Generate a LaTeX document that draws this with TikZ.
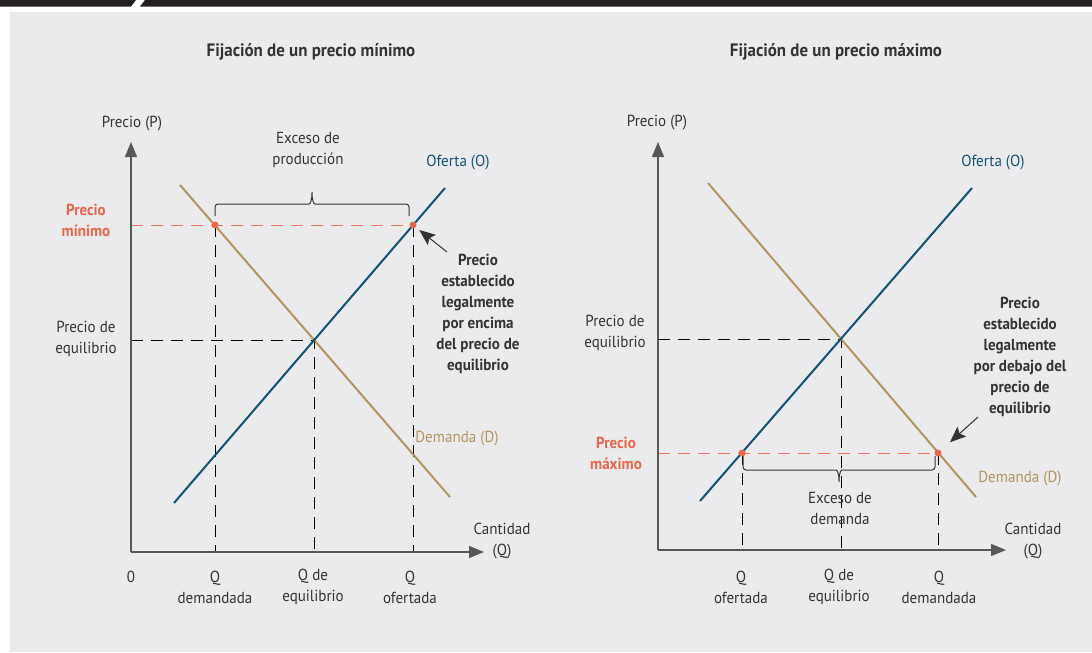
\documentclass[tikz,border=0pt]{standalone}
\usepackage{fontspec}
\setmainfont{PT Sans}[FakeStretch=0.94]
\usetikzlibrary{arrows.meta}
\definecolor{fondo}{RGB}{235,235,237}
\definecolor{barra}{RGB}{35,31,32}
\definecolor{oferta}{RGB}{18,82,114}
\definecolor{demanda}{RGB}{178,148,94}
\definecolor{tope}{RGB}{232,102,76}
\definecolor{texto}{RGB}{51,51,51}
\definecolor{eje}{RGB}{88,88,88}

\begin{document}
\begin{tikzpicture}[x=1pt,y=-1pt,
  lbl/.style={text=texto,font=\fontsize{16}{21}\selectfont,align=center,inner sep=0pt},
  nota/.style={lbl,font=\fontsize{16}{21}\selectfont\bfseries},
  titulo/.style={lbl,font=\fontsize{18}{20}\selectfont\bfseries},
  rojo/.style={lbl,text=tope,font=\fontsize{16}{21}\selectfont\bfseries},
  axis/.style={eje,line width=1.5pt,-{Triangle[length=15pt,width=12pt]}},
  guia/.style={black,line width=0.9pt,dash pattern=on 12pt off 8pt},
  guiaroja/.style={tope!90!white,line width=1pt,dash pattern=on 12pt off 8pt},
  curva/.style={line width=2pt},
  punto/.style={fill=tope},
  llave/.style={texto,line width=1pt,rounded corners=3pt},
  flecha/.style={texto,line width=1pt,-{Stealth[length=16pt,width=13pt,inset=3pt]}}]
\useasboundingbox (0,0) rectangle (1092,653);
% fondo y barra
\fill[white] (0,0) rectangle (1092,653);
\fill[fondo] (10,12) rectangle (1092,652);
\fill[barra] (0,0) -- (136,0) -- (131,6.5) -- (0,6.5) -- cycle;
\fill[barra] (145,0) -- (1092,0) -- (1092,6.5) -- (140,6.5) -- cycle;
\node[titulo] (tit1) at (311,52) {Fijación de un precio mínimo};
\node[titulo] (tit2) at (836,52) {Fijación de un precio máximo};

% precio minimo
\coordinate (O1) at (131,552);
\coordinate (P1) at (131,142);
\coordinate (Q1) at (484,552);
\coordinate (E1) at (314,340);
\coordinate (A1) at (215,225);
\coordinate (B1) at (413,225);
\coordinate (c1) at (447,252);
\draw[guia] (O1 |- E1) -- (E1) -- (E1 |- O1);
\draw[guia] (A1) -- (A1 |- O1);
\draw[guia] (B1) -- (B1 |- O1);
\draw[guiaroja] (O1 |- A1) -- (B1);
\draw[curva,demanda] (180,185) -- (450,497);
\draw[curva,oferta] (174,503) -- (445,188);
\draw[axis] (O1) -- (P1);
\draw[axis] (O1) -- (Q1);
\draw[llave] (215,216) -- (215,204) -- (306,204) .. controls (310,204) and (312,201) .. (312,190)
  .. controls (312,201) and (314,204) .. (318,204) -- (409,204) -- (409,216);
\fill[punto] (A1) circle (3.5pt);
\fill[punto] (B1) circle (3.5pt);
\node[lbl] (pP1) at (132,124) {Precio (P)};
\node[lbl] (ex1) at (308,150) {Exceso de\\producción};
\node[lbl,text=oferta] (of1) at (458,163) {Oferta (O)};
\node[rojo] (pm1) at (86,220) {Precio\\mínimo};
\node[lbl] (pe1) at (86,339) {Precio de\\equilibrio};
\node[nota] (n1) at (478,314) {Precio\\establecido\\legalmente\\por encima\\del precio de\\equilibrio};
\node[lbl,text=demanda] (dm1) at (457,439) {Demanda (D)};
\node[lbl] (ca1) at (502,541) {Cantidad\\(Q)};
\node[lbl] (z1) at (131,577) {0};
\node[lbl] (qd1) at (215,587) {Q\\demandada};
\node[lbl] (qe1) at (313,587) {Q de\\equilibrio};
\node[lbl] (qo1) at (410,587) {Q\\ofertada};
\draw[flecha,shorten >=8pt] (c1) -- (B1);

% precio maximo
\coordinate (O2) at (658,550);
\coordinate (P2) at (658,142);
\coordinate (Q2) at (1006,550);
\coordinate (E2) at (841,339);
\coordinate (A2) at (742,453);
\coordinate (B2) at (938,453);
\coordinate (c2) at (978,417);
\draw[guia] (O2 |- E2) -- (E2) -- (E2 |- O2);
\draw[guia] (A2) -- (A2 |- O2);
\draw[guia] (B2) -- (B2 |- O2);
\draw[guiaroja] (O2 |- A2) -- (B2);
\draw[curva,demanda] (708,183) -- (976,497);
\draw[curva,oferta] (700,501) -- (972,188);
\draw[axis] (O2) -- (P2);
\draw[axis] (O2) -- (Q2);
\draw[llave] (743,456) -- (743,470) -- (833,470) .. controls (837,470) and (839,473) .. (839,484)
  .. controls (839,473) and (841,470) .. (845,470) -- (935,470) -- (935,456);
\fill[punto] (A2) circle (3.5pt);
\fill[punto] (B2) circle (3.5pt);
\node[lbl] (pP2) at (657,123) {Precio (P)};
\node[lbl,text=oferta] (of2) at (993,163) {Oferta (O)};
\node[lbl] (pe2) at (615,333) {Precio de\\equilibrio};
\node[rojo] (pm2) at (616,453) {Precio\\máximo};
\node[nota] (n2) at (1020,357) {Precio\\establecido\\legalmente\\por debajo del\\precio de\\equilibrio};
\node[lbl,text=demanda] (dm2) at (1020,479) {Demanda (D)};
\node[lbl] (ex2) at (840,508) {Exceso de\\demanda};
\node[lbl] (ca2) at (1033,541) {Cantidad\\(Q)};
\node[lbl] (qo2) at (741,587) {Q\\ofertada};
\node[lbl] (qe2) at (839,587) {Q de\\equilibrio};
\node[lbl] (qd2) at (939,587) {Q\\demandada};
\draw[flecha,shorten >=16pt] (c2) -- (B2);
\end{tikzpicture}
\end{document}
